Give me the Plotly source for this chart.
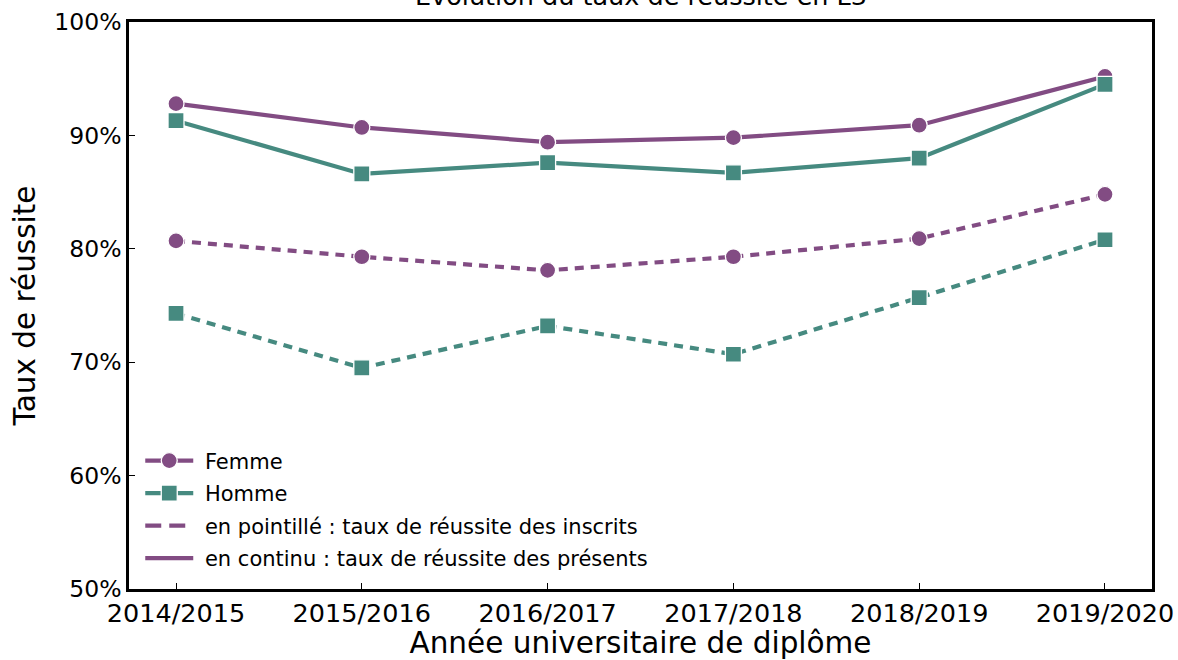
import plotly.graph_objects as go

annees = ["2014/2015", "2015/2016", "2016/2017", "2017/2018", "2018/2019", "2019/2020"]
femme_presents = [92.8, 90.7, 89.4, 89.8, 90.9, 95.2]
homme_presents = [91.3, 86.6, 87.6, 86.7, 88.0, 94.5]
femme_inscrits = [80.7, 79.3, 78.1, 79.3, 80.9, 84.8]
homme_inscrits = [74.3, 69.5, 73.2, 70.7, 75.7, 80.8]
y_ticks = [50, 60, 70, 80, 90, 100]
y_ticklabels = ["50%", "60%", "70%", "80%", "90%", "100%"]

violet = "#824C83"
vert = "#468A80"
FONT = "DejaVu Sans"
DASH = "9px,7px"
LW = 4.2
NB = "\u00a0"

fig = go.Figure()

def add(y, color, symbol, dash, name, show, group):
    fig.add_trace(go.Scatter(
        x=annees, y=y, mode="lines+markers", name=name, showlegend=show, legendgroup=group,
        line=dict(color=color, width=LW, dash=dash),
        marker=dict(symbol=symbol, size=16, color=color, line=dict(color="white", width=1.3)),
    ))

add(femme_inscrits, violet, "circle", DASH, "Femme inscrits", False, "g0")
add(homme_inscrits, vert, "square", DASH, "Homme inscrits", False, "g0")
add(femme_presents, violet, "circle", "solid", NB + "Femme", True, "g1")
add(homme_presents, vert, "square", "solid", NB + "Homme", True, "g2")

# legend-only entries
fig.add_trace(go.Scatter(x=[None], y=[None], mode="lines", name=NB + "en pointillé : taux de réussite des inscrits",
                         legendgroup="g3", line=dict(color=violet, width=LW, dash="16px,8px")))
fig.add_trace(go.Scatter(x=[None], y=[None], mode="lines", name=NB + "en continu : taux de réussite des présents",
                         legendgroup="g4", line=dict(color=violet, width=LW)))

fig.update_layout(
    width=1178, height=660,
    margin=dict(l=129, r=26, t=22, b=71, autoexpand=False),
    paper_bgcolor="white", plot_bgcolor="white",
    font=dict(family=FONT, color="black"),
    showlegend=True,
    legend=dict(x=0.011, y=0.262, xanchor="left", yanchor="top",
                font=dict(size=21, family=FONT), bgcolor="rgba(0,0,0,0)",
                itemwidth=48, tracegroupgap=2.2, traceorder="grouped"),
    xaxis=dict(
        type="category", range=[-0.253, 5.253], automargin=False,
        showline=True, linecolor="black", linewidth=2.5, mirror=True,
        ticks="inside", ticklen=6, tickwidth=1.2, tickcolor="black",
        tickfont=dict(size=25.5, family=FONT), showgrid=False, zeroline=False,
        title=dict(text="Année universitaire de diplôme", font=dict(size=29.5, family=FONT), standoff=10),
    ),
    yaxis=dict(
        range=[50, 100], tickvals=y_ticks, ticktext=y_ticklabels, automargin=False,
        showline=True, linecolor="black", linewidth=2.5, mirror=True,
        ticks="inside", ticklen=6, tickwidth=1.2, tickcolor="black",
        tickfont=dict(size=23.5, family=FONT), showgrid=False, zeroline=False,
        title=dict(text="Taux de réussite", font=dict(size=29.5, family=FONT), standoff=11),
    ),
    annotations=[dict(
        text="Évolution du taux de réussite en L3", xref="paper", yref="paper",
        x=0.5, y=1, xanchor="center", yanchor="bottom", yshift=9, showarrow=False,
        font=dict(size=25.5, family=FONT, color="black"),
    )],
)

fig.write_html("out.html", config={"displayModeBar": False},
               post_script="document.body.style.margin='0';")
